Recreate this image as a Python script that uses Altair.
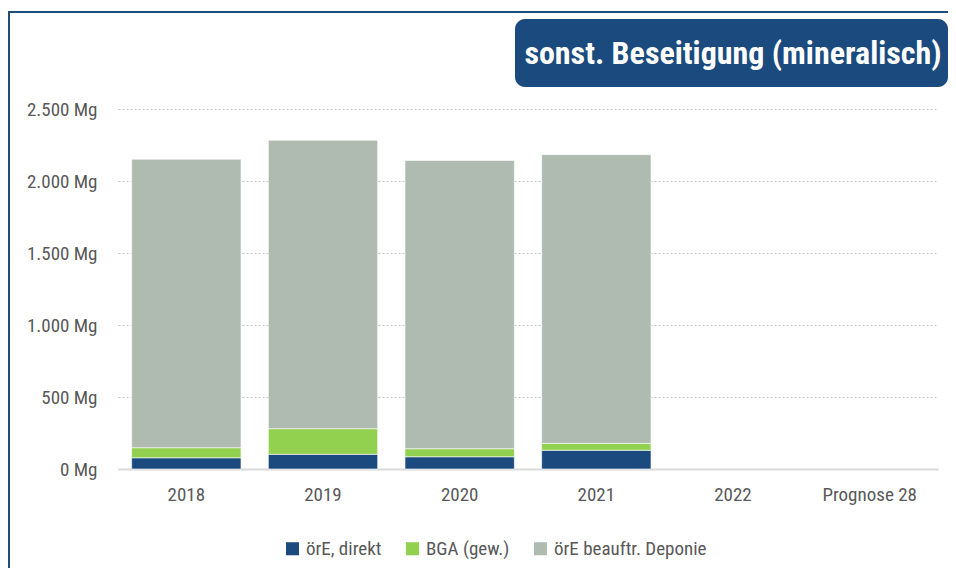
import altair as alt
import pandas as pd

years = ["2018", "2019", "2020", "2021", "2022", "Prognose 28"]
series = ["örE, direkt", "BGA (gew.)", "örE beauftr. Deponie"]
ore_direkt = [78, 102, 85, 130]
bga_gew = [70, 178, 56, 48]
deponie = [2003, 2003, 2001, 2005]
colors = ["#1a4a7e", "#92d050", "#afbab1"]
y_ticks = [0, 500, 1000, 1500, 2000, 2500]
title_text = "sonst. Beseitigung (mineralisch)"

rows = []
for i, yr in enumerate(years[:4]):
    for k, (s, vals) in enumerate(zip(series, [ore_direkt, bga_gew, deponie])):
        rows.append({"Jahr": yr, "Serie": s, "Wert": vals[i], "ord": k})
df = pd.DataFrame(rows)

FONT = "Roboto Condensed, Roboto"
GRAY = "#595959"
W, H = 820, 360

bars = alt.Chart(df).mark_bar(stroke="white", strokeWidth=0.6).encode(
    x=alt.X("Jahr:N",
            scale=alt.Scale(domain=years, paddingInner=0.2, paddingOuter=0.1),
            axis=alt.Axis(title=None, labelAngle=0, domainColor="#d9d9d9", domainWidth=2,
                          ticks=False, labelPadding=16, labelFontSize=19, labelColor=GRAY,
                          labelFont=FONT, grid=False)),
    y=alt.Y("Wert:Q", stack="zero",
            scale=alt.Scale(domain=[0, 2500], nice=False),
            axis=alt.Axis(title=None, values=y_ticks,
                          labelExpr="replace(format(datum.value, ',d'), ',', '.') + ' Mg'",
                          domain=False, ticks=False, labelPadding=21, labelFontSize=19,
                          labelColor=GRAY, labelFont=FONT, grid=True, gridColor="#c4c4c4",
                          gridDash=[2, 2], gridWidth=1)),
    color=alt.Color("Serie:N", scale=alt.Scale(domain=series, range=colors),
                    legend=alt.Legend(title=None, orient="none", legendX=165, legendY=430,
                                      direction="horizontal", symbolType="square",
                                      symbolSize=170, symbolStrokeWidth=0, labelFont=FONT,
                                      labelFontSize=19, labelColor=GRAY, columnPadding=21,
                                      labelOffset=4, labelLimit=0)),
    order=alt.Order("ord:Q"),
)

one = pd.DataFrame({"a": [0]})

frame_left = alt.Chart(one).mark_rule(color="#1f4e79", strokeWidth=2).encode(
    x=alt.value(-109), y=alt.value(-97), y2=alt.value(H + 99))
frame_top = alt.Chart(one).mark_rule(color="#1f4e79", strokeWidth=2).encode(
    x=alt.value(-110), x2=alt.value(W + 10), y=alt.value(-97))

title_box = alt.Chart(one).mark_rect(color="#1a4a7e", cornerRadius=10).encode(
    x=alt.value(397), x2=alt.value(830), y=alt.value(-90), y2=alt.value(-22))
title_txt = alt.Chart(one).mark_text(color="white", fontSize=32, fontWeight="bold",
                                     font=FONT, align="center", baseline="middle").encode(
    x=alt.value(615), y=alt.value(-55), text=alt.value(title_text))

chart = alt.layer(frame_left, frame_top, bars, title_box, title_txt).properties(
    width=W, height=H,
    autosize=alt.AutoSizeParams(type="none"),
    padding={"left": 110, "top": 101, "right": 10, "bottom": 99},
    background="white",
).configure_view(stroke=None)

chart.save("out.html", embed_options={"renderer": "svg", "actions": False})
